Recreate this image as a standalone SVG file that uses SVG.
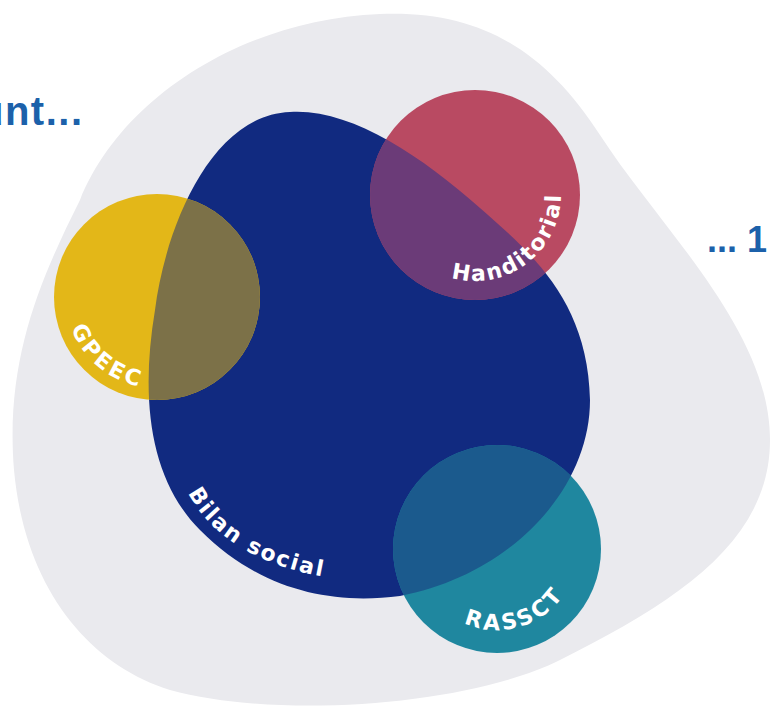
<svg xmlns="http://www.w3.org/2000/svg" width="770" height="715" viewBox="0 0 770 715">
<style>
.lbl{font-family:"DejaVu Sans","Open Sans",sans-serif;font-weight:bold;fill:#ffffff;font-size:22px;}
.side{font-family:"Liberation Sans",Arial,sans-serif;font-weight:bold;fill:#1c61aa;}
</style>
<defs>
<clipPath id="blobClip"><path d="M 290 112 C 350 108, 420 155, 480 208 C 530 252, 588 300, 590 400 C 590 490, 510 575, 400 596 C 330 605, 260 590, 200 530 C 150 480, 140 400, 155 310 C 165 230, 210 115, 290 112 Z"/></clipPath>
<path id="arcH" d="M 419.7 260.9 A 86 86 0 0 0 552.9 158.7"/>
<path id="arcG" d="M 66.3 304.9 A 91 91 0 0 0 164.9 387.7"/>
<path id="arcR" d="M 440.7 607.3 A 81 81 0 0 0 575.6 568.6"/>
<path id="arcB" d="M 188 493 C 210 535, 260 570, 345 580"/>
</defs>
<rect width="770" height="715" fill="#ffffff"/>
<g id="background">
<path d="M 380 14 C 480 10, 545 50, 600 135 C 660 228, 770 330, 770 440 C 770 540, 680 600, 560 660 C 470 705, 280 720, 170 690 C 90 665, 25 590, 14 470 C 5 360, 40 280, 80 200 C 120 100, 240 20, 380 14 Z" fill="#eaeaee"/>
</g>
<g id="bilan-social">
<path d="M 290 112 C 350 108, 420 155, 480 208 C 530 252, 588 300, 590 400 C 590 490, 510 575, 400 596 C 330 605, 260 590, 200 530 C 150 480, 140 400, 155 310 C 165 230, 210 115, 290 112 Z" fill="#112a80"/>
<text class="lbl" letter-spacing="2"><textPath href="#arcB">Bilan social</textPath></text>
</g>
<g id="handitorial">
<circle cx="475" cy="195" r="105" fill="#b94a62"/>
<circle cx="475" cy="195" r="105" fill="#6b3b78" clip-path="url(#blobClip)"/>
<text class="lbl" text-anchor="middle" letter-spacing="2"><textPath href="#arcH" startOffset="50%">Handitorial</textPath></text>
</g>
<g id="gpeec">
<circle cx="157" cy="297" r="103" fill="#e3b718"/>
<circle cx="157" cy="297" r="103" fill="#7c7148" clip-path="url(#blobClip)"/>
<text class="lbl" text-anchor="middle" letter-spacing="3"><textPath href="#arcG" startOffset="50%">GPEEC</textPath></text>
</g>
<g id="rassct">
<circle cx="497" cy="549" r="104" fill="#1f879f"/>
<circle cx="497" cy="549" r="104" fill="#1b5a8d" clip-path="url(#blobClip)"/>
<text class="lbl" text-anchor="middle" letter-spacing="3"><textPath href="#arcR" startOffset="50%">RASSCT</textPath></text>
</g>
<g id="side-texts">
<text class="side" x="-21" y="125" font-size="40" letter-spacing="1.5">unt...</text>
<text class="side" x="707" y="252" font-size="36">... 1</text>
</g>
<g id="connectors"/>
</svg>
